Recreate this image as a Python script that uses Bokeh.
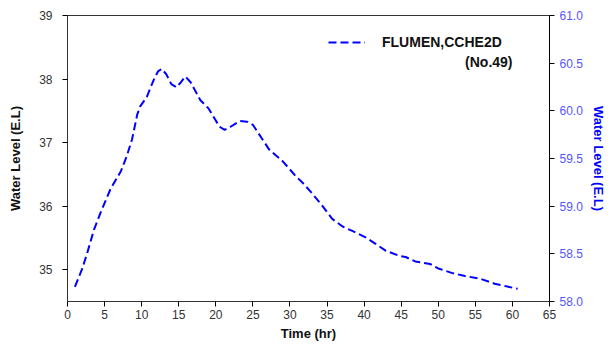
from bokeh.plotting import figure
from bokeh.models import (Range1d, LinearAxis, FixedTicker, Label, Legend, LegendItem,
                          PrintfTickFormatter)
from bokeh.embed import file_html
from bokeh.resources import INLINE

# data
time_hr = [1.0, 2.0, 2.7, 3.6, 4.5, 5.8, 7.2, 8.0, 8.7, 9.4, 9.8, 10.7, 11.6, 12.2, 12.7,
           13.3, 14.0, 14.7, 15.3, 15.9, 16.6, 17.9, 19.0, 20.5, 21.2, 22.0, 23.2, 24.2,
           25.0, 26.3, 27.2, 29.0, 30.8, 31.7, 33.0, 34.4, 35.7, 37.1, 38.4, 40.2, 41.5,
           42.9, 44.7, 45.6, 46.9, 48.9, 50.0, 51.8, 53.6, 55.6, 57.6, 60.3, 60.7]
water_level = [34.73, 35.02, 35.28, 35.64, 35.91, 36.27, 36.55, 36.79, 37.05, 37.44, 37.57,
               37.72, 37.98, 38.12, 38.16, 38.08, 37.92, 37.87, 37.95, 38.04, 37.95, 37.67,
               37.54, 37.25, 37.20, 37.25, 37.34, 37.33, 37.28, 37.05, 36.89, 36.71, 36.47,
               36.37, 36.20, 36.00, 35.80, 35.68, 35.61, 35.51, 35.41, 35.30, 35.22, 35.20,
               35.13, 35.09, 35.02, 34.95, 34.90, 34.86, 34.78, 34.71, 34.70]
x_ticks = [0, 5, 10, 15, 20, 25, 30, 35, 40, 45, 50, 55, 60, 65]
left_ticks = [35, 36, 37, 38, 39]
right_ticks = [58.0, 58.5, 59.0, 59.5, 60.0, 60.5, 61.0]
series_label = "FLUMEN,CCHE2D"
series_sub = "(No.49)"

FONT = "Liberation Sans"

p = figure(width=608, height=343, output_backend="svg", toolbar_location=None,
           x_range=Range1d(0, 65), y_range=Range1d(34.5, 39),
           min_border_left=67, min_border_right=56, min_border_top=15, min_border_bottom=41)
p.extra_y_ranges = {"right": Range1d(58.0, 61.0)}
p.xgrid.visible = False
p.ygrid.visible = False
p.outline_line_color = "#333333"
p.outline_line_width = 1
p.background_fill_color = "white"
p.border_fill_color = "white"

line = p.line(time_hr, water_level, line_color="#0000ff", line_width=2, line_dash="8 4")


def style_ticks(ax, color):
    ax.major_label_text_font = FONT
    ax.major_label_text_font_size = "12px"
    ax.major_label_text_color = color
    ax.major_tick_in = 0
    ax.major_tick_out = 5
    ax.minor_tick_out = 0
    ax.minor_tick_in = 0


def style_title(ax, color):
    ax.axis_label_text_font = FONT
    ax.axis_label_text_font_style = "bold"
    ax.axis_label_text_font_size = "13px"
    ax.axis_label_text_color = color


xa = p.xaxis[0]
xa.ticker = FixedTicker(ticks=x_ticks)
xa.axis_label = "Time (hr)"
style_ticks(xa, "#333333")
style_title(xa, "#111111")
xa.major_label_standoff = 3
xa.axis_label_standoff = 4
xa.axis_line_color = "#333333"

ya = p.yaxis[0]
ya.ticker = FixedTicker(ticks=left_ticks)
ya.axis_label = "Water Level (E.L)"
style_ticks(ya, "#333333")
style_title(ya, "#111111")
ya.major_label_standoff = 10
ya.axis_label_standoff = 13
ya.axis_line_color = "#333333"

ra = LinearAxis(y_range_name="right", ticker=FixedTicker(ticks=right_ticks),
                formatter=PrintfTickFormatter(format="%.1f"))
ra.axis_label = "Water Level (E.L)"
style_ticks(ra, "#5555ff")
style_title(ra, "#0000ff")
ra.major_label_standoff = 5
ra.axis_label_standoff = 5
ra.axis_line_color = "#000000"
ra.major_tick_line_color = "#000000"
p.add_layout(ra, "right")

# legend
legend = Legend(items=[LegendItem(label=series_label, renderers=[line])],
                location=(261, 251), orientation="vertical",
                glyph_width=37, glyph_height=14, label_height=14, label_standoff=17,
                padding=0, margin=0, spacing=0,
                border_line_color=None, background_fill_alpha=0,
                label_text_font=FONT, label_text_font_style="bold",
                label_text_font_size="14px", label_text_color="#111111")
p.add_layout(legend, "center")
p.add_layout(Label(x=445, y=240, x_units="screen", y_units="screen", text=series_sub,
                   text_align="right", text_baseline="middle",
                   text_font=FONT, text_font_style="bold", text_font_size="14px",
                   text_color="#111111"))

open("out.html", "w").write(file_html(p, INLINE))
